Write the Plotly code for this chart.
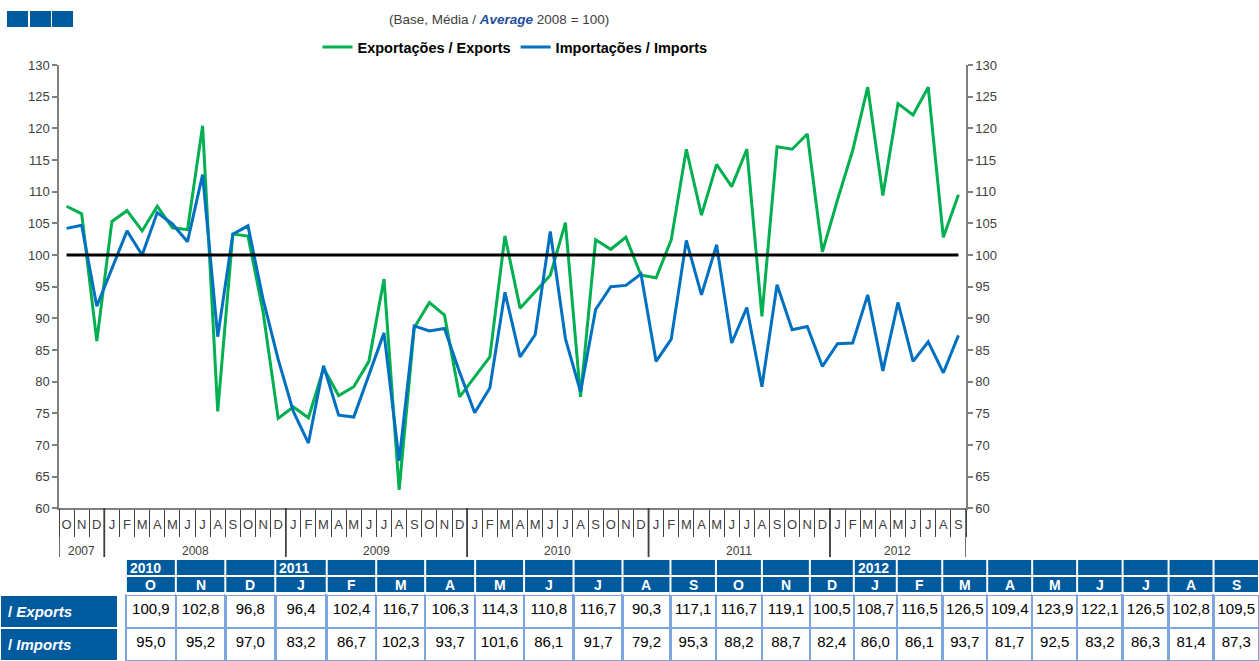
import plotly.graph_objects as go

# Índice de valor, base média 2008 = 100, out/2007 a set/2012
month_letters = ['J', 'F', 'M', 'A', 'M', 'J', 'J', 'A', 'S', 'O', 'N', 'D']
year_labels = ['2007', '2008', '2009', '2010', '2011', '2012']
periods = [(y, m) for y in range(2007, 2013) for m in range(1, 13)
           if (2007, 10) <= (y, m) <= (2012, 9)]

exports = [107.7, 106.5, 86.4, 105.3, 107.0, 103.8, 107.7, 104.3, 104.0, 120.4,
           75.3, 103.3, 103.0, 91.0, 74.2, 76.0, 74.3, 82.1, 77.8, 79.2,
           83.2, 96.2, 62.9, 88.5, 92.5, 90.5, 77.6, 80.8, 83.9, 103.0,
           91.6, 94.2, 96.8, 105.1, 77.6, 102.4,
           100.9, 102.8, 96.8, 96.4, 102.4, 116.7, 106.3, 114.3, 110.8, 116.7,
           90.3, 117.1, 116.7, 119.1, 100.5, 108.7, 116.5, 126.5, 109.4, 123.9,
           122.1, 126.5, 102.8, 109.5]
imports = [104.2, 104.7, 91.9, 97.8, 103.8, 100.0, 106.7, 104.9, 102.1, 112.7,
           87.1, 103.3, 104.6, 93.0, 83.5, 75.3, 70.3, 82.5, 74.7, 74.4,
           81.0, 87.7, 67.5, 88.8, 88.0, 88.4, 81.5, 75.1, 79.0, 94.1,
           83.9, 87.4, 103.7, 86.8, 78.4, 91.4,
           95.0, 95.2, 97.0, 83.2, 86.7, 102.3, 93.7, 101.6, 86.1, 91.7,
           79.2, 95.3, 88.2, 88.7, 82.4, 86.0, 86.1, 93.7, 81.7, 92.5,
           83.2, 86.3, 81.4, 87.3]
base_value = 100

GREEN = '#00B050'
BLUE = '#0070C0'
DARK_BLUE = '#005A9E'
LIGHT_BLUE = '#7EA6DE'
AXIS = '#808080'
TXT = '#404040'
FONT = 'Liberation Sans, Arial'
W, H = 1259, 661

x = list(range(len(periods)))
tick_text = [month_letters[m - 1] for _, m in periods]

fig = go.Figure()
fig.add_trace(go.Scatter(x=x, y=exports, mode='lines', name='Exportações / Exports',
                         line=dict(color=GREEN, width=3)))
fig.add_trace(go.Scatter(x=x, y=imports, mode='lines', name='Importações / Imports',
                         line=dict(color=BLUE, width=3)))
fig.add_trace(go.Scatter(x=x, y=[base_value] * len(x), mode='lines', showlegend=False,
                         line=dict(color='black', width=3), yaxis='y2'))

# tabela com os últimos 24 meses
n_tab = 24
tab_periods = periods[-n_tab:]
tab_years = ['%d' % y if i == 0 or m == 1 else '' for i, (y, m) in enumerate(tab_periods)]
tab_months = [month_letters[m - 1] for _, m in tab_periods]
fmt = lambda v: ('%.1f' % v).replace('.', ',')

col_w = [118, 8, 50, 49.5, 50, 51.5, 49.5, 49, 50, 49, 49.5, 49, 48, 45.5, 46, 48,
         44, 43, 45.5, 45, 45, 45, 45.5, 46, 45, 45.5]
total_w = sum(col_w)
cell_vals = [['<b>/ <i>Exports</i></b>', '<b>/ <i>Imports</i></b>'], ['', '']] + \
    [[fmt(exports[-n_tab + i]), fmt(imports[-n_tab + i])] for i in range(n_tab)]

head_h = 20
fig.add_trace(go.Table(
    domain=dict(x=[0, 1], y=[0, (66 + head_h) / H]),
    columnwidth=col_w,
    header=dict(values=[''] * len(col_w), height=head_h,
                fill=dict(color='white'), line=dict(color='white', width=0)),
    cells=dict(values=cell_vals, height=33,
               fill=dict(color=[[DARK_BLUE, DARK_BLUE], ['white', 'white']] + [['white', 'white']] * n_tab),
               line=dict(color=['white', 'white'] + [LIGHT_BLUE] * n_tab, width=2.5),
               align=['left', 'left'] + ['center'] * n_tab,
               font=dict(family=FONT, size=15, color=['white', 'white'] + ['black'] * n_tab)),
))

shapes = []
annotations = []

# cabeçalho da tabela (ano / mês)
left = col_w[0] + col_w[1]
for i in range(n_tab):
    right = left + col_w[i + 2]
    for (top, bot) in ((560, 575), (577, 592)):
        shapes.append(dict(type='rect', xref='paper', yref='paper', layer='above',
                           x0=(left + 1) / total_w, x1=(right - 1) / total_w,
                           y0=(H - bot) / H, y1=(H - top) / H,
                           fillcolor=DARK_BLUE, line=dict(width=0)))
    if tab_years[i]:
        annotations.append(dict(x=(left + 2) / total_w, y=(H - 567.5) / H, xref='paper', yref='paper',
                                xanchor='left', yanchor='middle', showarrow=False,
                                text='<b>%s</b>' % tab_years[i],
                                font=dict(family=FONT, size=14, color='white')))
    annotations.append(dict(x=(left + right) / 2 / total_w, y=(H - 584.5) / H, xref='paper', yref='paper',
                            xanchor='center', yanchor='middle', showarrow=False,
                            text='<b>%s</b>' % tab_months[i],
                            font=dict(family=FONT, size=14, color='white')))
    left = right

# anos por baixo dos meses
for yl in year_labels:
    idx = [i for i, (y, _) in enumerate(periods) if str(y) == yl]
    annotations.append(dict(x=(idx[0] + idx[-1]) / 2, y=(H - 551) / H, xref='x', yref='paper',
                            text=yl, showarrow=False, yanchor='middle',
                            font=dict(family=FONT, size=12, color=TXT)))
    for b in (idx[0] - 0.5, idx[-1] + 0.5):
        shapes.append(dict(type='line', xref='x', yref='paper', x0=b, x1=b,
                           y0=(H - 508) / H, y1=(H - 557) / H,
                           line=dict(color=TXT, width=1.5)))

for x0 in (7, 30, 52):
    shapes.append(dict(type='rect', xref='paper', yref='paper', x0=x0 / W, x1=(x0 + 21) / W,
                       y0=(H - 27) / H, y1=(H - 11) / H, fillcolor=DARK_BLUE, line=dict(width=0)))

annotations.append(dict(x=499 / W, y=(H - 20) / H, xref='paper', yref='paper', showarrow=False,
                        yanchor='middle',
                        text="(Base, Média / <b><i><span style='color:#1F4E9A'>Average</span></i></b> 2008 = 100)",
                        font=dict(family=FONT, size=13.5, color=TXT)))

yax = dict(range=[60, 130], dtick=5, showline=True, linecolor=AXIS, linewidth=1.5,
           ticks='outside', ticklen=5, tickcolor=AXIS, tickwidth=1.5, showgrid=False,
           zeroline=False, automargin=False, tickfont=dict(family=FONT, size=13, color=TXT),
           domain=[(H - 508.3) / H, (H - 65) / H])

fig.update_layout(
    width=W, height=H,
    margin=dict(l=0, r=0, t=0, b=0, autoexpand=False),
    paper_bgcolor='white', plot_bgcolor='white',
    xaxis=dict(range=[-0.5, len(x) - 0.5], domain=[59 / W, 966 / W], automargin=False,
               tickmode='array', tickvals=x, ticktext=tick_text,
               showline=True, linecolor=AXIS, linewidth=1.5, showgrid=False, zeroline=False,
               ticks='outside', ticklen=0, tickcolor=AXIS,
               minor=dict(tickmode='linear', tick0=0.5, dtick=1, ticks='outside', ticklen=27,
                          tickcolor=TXT, tickwidth=1.2, showgrid=False),
               ticklabelstandoff=3,
               tickfont=dict(family=FONT, size=13, color=TXT)),
    yaxis=yax,
    yaxis2=dict(yax, overlaying='y', side='right', anchor='x'),
    legend=dict(orientation='h', x=515 / W, xanchor='center', y=(H - 47) / H, yanchor='middle',
                font=dict(family='Liberation Sans Narrow, Arial Narrow, Liberation Sans', size=14.5,
                          color='black', weight='bold'),
                itemwidth=30, tracegroupgap=0),
    shapes=shapes,
    annotations=annotations,
    showlegend=True,
)

fig.write_html("out.html", config={'displayModeBar': False},
               post_script="document.body.style.margin='0';document.body.style.overflow='hidden';")
